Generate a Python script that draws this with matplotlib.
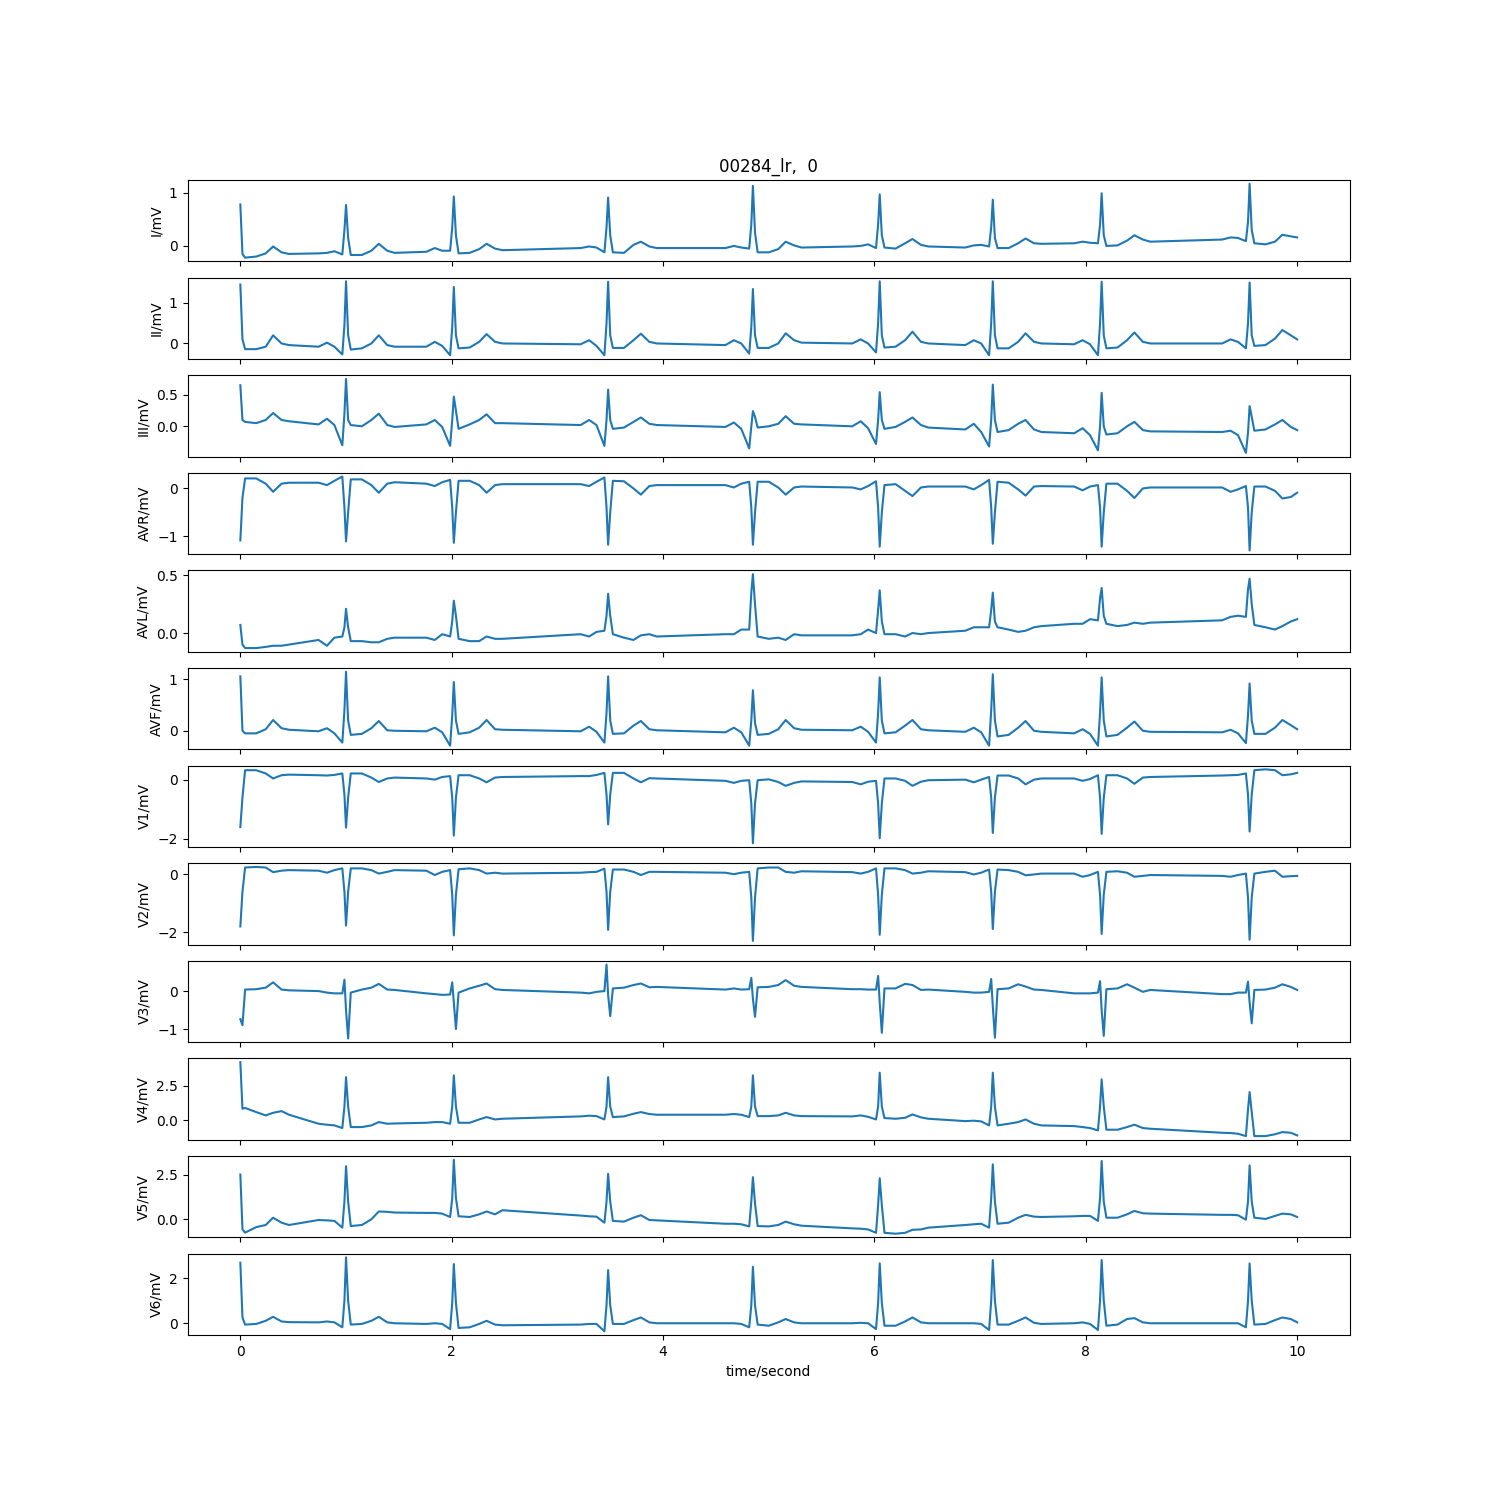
import matplotlib.pyplot as plt
import numpy as np

# ===================== Data =====================
title = "00284_lr,  0"
leads = ["I", "II", "III", "AVR", "AVL", "AVF", "V1", "V2", "V3", "V4", "V5", "V6"]

# R peak times (seconds), first beat is cut at t = 0
r_times = [1.00, 2.02, 3.48, 4.85, 6.05, 7.12, 8.15, 9.55]
# sample points around each R peak: pre, P, PR, Q, up, R, down, J, ST, T0, Tpeak, Tend, post
offsets = [-0.26, -0.18, -0.11, -0.035, -0.015, 0.0, 0.02, 0.045, 0.15, 0.24, 0.31, 0.39, 0.46]

# values in mV, first row = partial beat at t = 0
lead_I = [
    [0.78, -0.15, -0.22, -0.20, -0.14, -0.01, -0.12, -0.15],
    [-0.14, -0.13, -0.10, -0.16, 0.30, 0.77, 0.15, -0.17, -0.17, -0.09, 0.04, -0.09, -0.13],
    [-0.11, -0.04, -0.09, -0.09, 0.35, 0.93, 0.20, -0.14, -0.13, -0.06, 0.04, -0.05, -0.08],
    [-0.04, -0.01, -0.03, -0.12, 0.35, 0.91, 0.20, -0.12, -0.13, 0.02, 0.08, -0.01, -0.04],
    [-0.04, 0.00, -0.03, -0.05, 0.40, 1.13, 0.25, -0.12, -0.12, -0.06, 0.08, 0.01, -0.03],
    [-0.01, 0.00, 0.03, -0.04, 0.40, 0.97, 0.20, -0.03, -0.05, 0.05, 0.13, 0.02, -0.01],
    [-0.03, 0.01, 0.02, -0.01, 0.35, 0.87, 0.15, -0.04, -0.04, 0.05, 0.14, 0.05, 0.04],
    [0.05, 0.08, 0.06, 0.05, 0.40, 0.99, 0.20, 0.00, 0.01, 0.10, 0.20, 0.12, 0.08],
    [0.12, 0.16, 0.15, 0.09, 0.45, 1.17, 0.30, 0.05, 0.03, 0.08, 0.21, 0.18, 0.16],
]
lead_II = [
    [1.45, 0.10, -0.14, -0.14, -0.08, 0.20, 0.00, -0.04],
    [-0.08, 0.02, -0.08, -0.27, 0.45, 1.53, 0.20, -0.15, -0.12, 0.00, 0.20, -0.04, -0.08],
    [-0.08, 0.04, -0.06, -0.29, 0.40, 1.39, 0.20, -0.12, -0.10, 0.04, 0.23, 0.04, 0.00],
    [-0.02, 0.08, -0.06, -0.29, 0.50, 1.52, 0.20, -0.11, -0.11, 0.08, 0.24, 0.04, 0.00],
    [-0.04, 0.08, 0.00, -0.25, 0.40, 1.34, 0.20, -0.11, -0.11, 0.00, 0.25, 0.08, 0.02],
    [0.00, 0.10, 0.00, -0.22, 0.50, 1.53, 0.20, -0.10, -0.08, 0.08, 0.29, 0.04, 0.00],
    [-0.04, 0.08, 0.00, -0.29, 0.50, 1.53, 0.20, -0.12, -0.12, 0.04, 0.25, 0.04, 0.00],
    [-0.02, 0.08, -0.02, -0.29, 0.50, 1.52, 0.20, -0.12, -0.10, 0.08, 0.27, 0.04, 0.00],
    [0.00, 0.10, 0.04, -0.12, 0.50, 1.50, 0.20, -0.06, -0.04, 0.12, 0.33, 0.20, 0.10],
]
lead_III = [
    [0.65, 0.10, 0.07, 0.05, 0.10, 0.21, 0.10, 0.08],
    [0.03, 0.12, 0.02, -0.30, 0.20, 0.75, 0.10, 0.02, 0.00, 0.10, 0.20, 0.02, -0.01],
    [0.03, 0.10, -0.01, -0.31, 0.10, 0.47, 0.25, -0.04, 0.03, 0.10, 0.19, 0.05, 0.05],
    [0.02, 0.10, 0.02, -0.31, 0.10, 0.58, 0.10, -0.04, -0.02, 0.07, 0.14, 0.04, 0.02],
    [-0.01, 0.06, -0.04, -0.35, 0.00, 0.24, 0.15, -0.02, 0.00, 0.04, 0.16, 0.04, 0.03],
    [0.00, 0.08, -0.03, -0.28, 0.10, 0.54, 0.10, -0.04, -0.01, 0.07, 0.14, 0.02, -0.02],
    [-0.05, 0.04, -0.09, -0.32, 0.10, 0.66, 0.10, -0.09, -0.06, 0.04, 0.10, -0.05, -0.09],
    [-0.11, -0.03, -0.14, -0.38, 0.00, 0.53, 0.00, -0.13, -0.11, 0.00, 0.07, -0.06, -0.08],
    [-0.09, -0.07, -0.14, -0.42, -0.10, 0.32, 0.15, -0.07, -0.05, 0.03, 0.10, -0.01, -0.06],
]
lead_AVR = [
    [-1.09, -0.20, 0.21, 0.21, 0.10, -0.07, 0.10, 0.12],
    [0.12, 0.07, 0.16, 0.25, -0.40, -1.11, -0.50, 0.19, 0.19, 0.07, -0.09, 0.10, 0.13],
    [0.10, 0.05, 0.13, 0.18, -0.40, -1.14, -0.50, 0.16, 0.16, 0.07, -0.09, 0.07, 0.09],
    [0.09, 0.05, 0.14, 0.23, -0.40, -1.18, -0.50, 0.16, 0.15, 0.00, -0.13, 0.05, 0.07],
    [0.07, 0.02, 0.10, 0.14, -0.40, -1.18, -0.50, 0.14, 0.14, 0.02, -0.13, 0.02, 0.04],
    [0.02, -0.02, 0.05, 0.15, -0.40, -1.22, -0.50, 0.07, 0.09, -0.05, -0.16, 0.02, 0.04],
    [0.04, -0.02, 0.07, 0.18, -0.40, -1.16, -0.50, 0.14, 0.12, -0.02, -0.15, 0.04, 0.05],
    [0.04, -0.04, 0.04, 0.07, -0.40, -1.22, -0.50, 0.10, 0.10, -0.05, -0.20, 0.00, 0.02],
    [0.02, -0.07, -0.02, 0.05, -0.40, -1.30, -0.50, 0.04, 0.04, -0.05, -0.21, -0.18, -0.09],
]
lead_AVL = [
    [0.07, -0.10, -0.13, -0.13, -0.12, -0.11, -0.11, -0.10],
    [-0.06, -0.11, -0.04, -0.03, 0.05, 0.21, 0.05, -0.07, -0.07, -0.08, -0.08, -0.05, -0.04],
    [-0.04, -0.06, -0.01, -0.03, 0.10, 0.28, 0.15, -0.05, -0.07, -0.07, -0.03, -0.05, -0.05],
    [-0.01, -0.03, 0.01, 0.02, 0.15, 0.34, 0.15, -0.01, -0.04, -0.06, -0.02, -0.01, -0.03],
    [-0.01, -0.01, 0.03, 0.03, 0.35, 0.51, 0.25, -0.03, -0.05, -0.04, -0.06, -0.01, -0.02],
    [-0.02, -0.01, 0.03, 0.00, 0.20, 0.37, 0.10, -0.01, -0.01, -0.03, 0.00, -0.01, 0.00],
    [0.02, 0.05, 0.05, 0.05, 0.20, 0.35, 0.10, 0.05, 0.03, 0.01, 0.02, 0.05, 0.06],
    [0.08, 0.08, 0.12, 0.11, 0.30, 0.39, 0.15, 0.08, 0.06, 0.07, 0.09, 0.08, 0.09],
    [0.11, 0.14, 0.15, 0.14, 0.38, 0.47, 0.25, 0.07, 0.05, 0.03, 0.06, 0.10, 0.12],
]
lead_AVF = [
    [1.06, 0.00, -0.05, -0.05, 0.03, 0.21, 0.05, 0.02],
    [-0.01, 0.05, -0.05, -0.23, 0.40, 1.15, 0.20, -0.08, -0.06, 0.05, 0.19, 0.01, 0.00],
    [-0.01, 0.06, -0.03, -0.29, 0.30, 0.95, 0.20, -0.06, -0.03, 0.06, 0.21, 0.03, 0.02],
    [-0.01, 0.08, -0.02, -0.23, 0.35, 1.06, 0.20, -0.06, -0.05, 0.10, 0.19, 0.03, 0.01],
    [-0.03, 0.06, -0.03, -0.29, 0.20, 0.79, 0.15, -0.08, -0.06, 0.03, 0.21, 0.05, 0.02],
    [0.01, 0.08, -0.02, -0.23, 0.35, 1.04, 0.20, -0.05, -0.03, 0.10, 0.21, 0.03, 0.01],
    [-0.02, 0.06, -0.03, -0.29, 0.40, 1.10, 0.20, -0.11, -0.08, 0.06, 0.19, 0.00, -0.02],
    [-0.05, 0.03, -0.06, -0.29, 0.35, 1.04, 0.20, -0.11, -0.08, 0.06, 0.18, 0.00, -0.02],
    [-0.03, 0.02, -0.05, -0.24, 0.30, 0.92, 0.20, -0.06, -0.06, 0.06, 0.21, 0.11, 0.03],
]
lead_V1 = [
    [-1.60, -0.60, 0.33, 0.33, 0.22, 0.05, 0.16, 0.18],
    [0.16, 0.15, 0.17, 0.22, -0.50, -1.62, -0.60, 0.22, 0.22, 0.08, -0.07, 0.05, 0.08],
    [0.05, 0.01, 0.10, 0.13, -0.60, -1.89, -0.60, 0.16, 0.16, 0.05, -0.08, 0.08, 0.10],
    [0.13, 0.13, 0.17, 0.24, -0.50, -1.51, -0.50, 0.24, 0.24, 0.05, -0.08, 0.06, 0.05],
    [-0.03, -0.10, -0.03, -0.01, -0.80, -2.15, -0.80, -0.01, 0.02, -0.07, -0.20, -0.10, -0.05],
    [-0.07, -0.15, -0.06, -0.03, -0.80, -1.98, -0.80, 0.05, 0.05, -0.03, -0.20, -0.06, -0.01],
    [0.01, -0.08, 0.01, 0.10, -0.60, -1.80, -0.60, 0.15, 0.15, 0.05, -0.15, 0.01, 0.05],
    [0.05, -0.03, 0.03, 0.16, -0.60, -1.83, -0.60, 0.16, 0.16, 0.05, -0.13, 0.08, 0.10],
    [0.15, 0.16, 0.17, 0.22, -0.50, -1.75, -0.50, 0.33, 0.36, 0.33, 0.16, 0.19, 0.24],
]
lead_V2 = [
    [-1.80, -0.60, 0.24, 0.26, 0.24, 0.08, 0.13, 0.15],
    [0.13, 0.06, 0.15, 0.21, -0.60, -1.77, -0.60, 0.21, 0.21, 0.15, 0.03, 0.09, 0.15],
    [0.13, -0.02, 0.09, 0.15, -0.70, -2.11, -0.70, 0.18, 0.21, 0.15, 0.03, 0.06, 0.03],
    [0.06, 0.08, 0.09, 0.20, -0.60, -1.92, -0.60, 0.17, 0.17, 0.09, -0.02, 0.09, 0.09],
    [0.06, 0.01, 0.06, 0.09, -0.80, -2.30, -0.80, 0.21, 0.24, 0.24, 0.09, 0.06, 0.11],
    [0.08, 0.03, 0.09, 0.21, -0.70, -2.09, -0.70, 0.21, 0.21, 0.15, 0.03, 0.06, 0.11],
    [0.08, 0.00, 0.06, 0.17, -0.60, -1.89, -0.60, 0.17, 0.15, 0.09, -0.03, 0.00, 0.03],
    [0.03, -0.08, -0.02, 0.09, -0.70, -2.06, -0.70, 0.09, 0.11, 0.06, -0.08, -0.05, -0.02],
    [-0.05, -0.08, -0.02, 0.03, -0.80, -2.26, -0.80, 0.03, 0.09, 0.13, -0.08, -0.06, -0.05],
]
lead_V3 = [
    [-0.74, -0.90, 0.04, 0.05, 0.09, 0.23, 0.04, 0.02],
    [0.00, -0.04, -0.06, -0.06, 0.30, -0.50, -1.25, -0.04, 0.04, 0.09, 0.19, 0.04, 0.03],
    [-0.06, -0.08, -0.10, -0.09, 0.23, -0.30, -1.00, -0.04, 0.07, 0.14, 0.20, 0.05, 0.03],
    [-0.04, -0.06, -0.02, 0.00, 0.70, -0.10, -0.66, 0.07, 0.09, 0.16, 0.20, 0.10, 0.11],
    [0.04, 0.07, 0.04, 0.05, 0.35, -0.20, -0.68, 0.10, 0.11, 0.16, 0.29, 0.14, 0.11],
    [0.05, 0.05, 0.04, 0.04, 0.40, -0.30, -1.10, 0.07, 0.07, 0.19, 0.16, 0.03, 0.04],
    [-0.02, -0.04, -0.04, -0.02, 0.32, -0.40, -1.23, 0.05, 0.07, 0.18, 0.12, 0.04, 0.03],
    [-0.06, -0.06, -0.06, -0.04, 0.26, -0.50, -1.18, 0.05, 0.07, 0.18, 0.09, -0.02, 0.03],
    [-0.08, -0.08, -0.04, -0.04, 0.25, -0.30, -0.85, 0.03, 0.04, 0.09, 0.18, 0.11, 0.03],
]
lead_V4 = [
    [4.20, 0.84, 0.90, 0.60, 0.36, 0.55, 0.67, 0.41],
    [-0.24, -0.31, -0.36, -0.55, 1.00, 3.12, 1.00, -0.48, -0.48, -0.36, -0.12, -0.24, -0.22],
    [-0.17, -0.12, -0.12, -0.24, 1.00, 3.25, 1.00, -0.17, -0.17, 0.07, 0.24, 0.07, 0.12],
    [0.29, 0.34, 0.31, 0.07, 1.00, 3.12, 1.00, 0.24, 0.29, 0.48, 0.60, 0.46, 0.41],
    [0.41, 0.46, 0.41, 0.24, 1.00, 3.25, 1.00, 0.31, 0.31, 0.36, 0.55, 0.36, 0.31],
    [0.29, 0.36, 0.26, 0.07, 1.00, 3.44, 1.00, 0.17, 0.12, 0.19, 0.43, 0.22, 0.12],
    [-0.05, -0.02, -0.07, -0.36, 1.00, 3.44, 1.00, -0.36, -0.24, -0.12, 0.07, -0.24, -0.36],
    [-0.41, -0.48, -0.55, -0.72, 1.00, 2.96, 1.00, -0.67, -0.67, -0.48, -0.31, -0.55, -0.60],
    [-0.89, -0.91, -0.96, -1.13, 0.80, 2.04, 0.60, -1.13, -1.13, -1.00, -0.84, -0.89, -1.08],
]
lead_V5 = [
    [2.52, -0.57, -0.75, -0.44, -0.32, 0.09, -0.19, -0.32],
    [-0.04, -0.06, -0.09, -0.47, 1.00, 2.99, 1.00, -0.38, -0.32, 0.00, 0.44, 0.42, 0.38],
    [0.36, 0.36, 0.32, 0.13, 1.20, 3.35, 1.20, 0.17, 0.13, 0.28, 0.44, 0.28, 0.51],
    [0.21, 0.17, 0.15, -0.19, 1.00, 2.56, 1.00, -0.09, -0.13, 0.09, 0.23, -0.04, -0.06],
    [-0.25, -0.25, -0.28, -0.40, 1.00, 2.37, 0.90, -0.38, -0.40, -0.32, -0.13, -0.28, -0.36],
    [-0.51, -0.53, -0.57, -0.76, 0.80, 2.31, 0.80, -0.76, -0.81, -0.76, -0.59, -0.57, -0.47],
    [-0.32, -0.28, -0.25, -0.47, 1.20, 3.09, 1.00, -0.25, -0.19, 0.09, 0.25, 0.15, 0.13],
    [0.17, 0.19, 0.19, -0.09, 1.20, 3.28, 1.00, 0.09, 0.09, 0.28, 0.47, 0.34, 0.32],
    [0.25, 0.25, 0.23, -0.02, 1.00, 3.03, 1.00, 0.09, 0.02, 0.19, 0.32, 0.28, 0.13],
]
lead_V6 = [
    [2.70, 0.25, -0.07, -0.04, 0.10, 0.28, 0.07, 0.04],
    [0.03, 0.07, 0.03, -0.19, 1.00, 2.94, 1.00, -0.07, -0.04, 0.10, 0.28, 0.03, -0.01],
    [-0.04, -0.01, -0.04, -0.27, 0.90, 2.64, 0.90, -0.22, -0.19, -0.04, 0.10, -0.07, -0.10],
    [-0.07, -0.04, -0.04, -0.37, 0.80, 2.37, 0.80, -0.04, -0.04, 0.13, 0.25, 0.03, -0.01],
    [-0.01, -0.01, -0.04, -0.19, 0.80, 2.52, 0.80, -0.07, -0.12, 0.03, 0.18, 0.03, -0.01],
    [-0.01, 0.01, -0.01, -0.27, 0.90, 2.67, 0.90, -0.12, -0.12, 0.07, 0.25, 0.03, -0.01],
    [-0.01, -0.01, -0.04, -0.31, 1.00, 2.82, 1.00, -0.07, -0.07, 0.10, 0.25, 0.01, -0.04],
    [-0.01, 0.03, -0.04, -0.31, 1.00, 2.82, 1.00, -0.12, -0.07, 0.18, 0.22, 0.03, -0.01],
    [-0.01, -0.01, -0.01, -0.19, 1.00, 2.67, 1.00, -0.07, -0.04, 0.13, 0.25, 0.18, 0.03],
]

signals = [lead_I, lead_II, lead_III, lead_AVR, lead_AVL, lead_AVF,
           lead_V1, lead_V2, lead_V3, lead_V4, lead_V5, lead_V6]

# ===================== Time axis =====================
t = list(offsets[5:])
for r in r_times:
    for o in offsets:
        t.append(r + o)
t = np.minimum(np.array(t), 10.0)

# ===================== Plot =====================
fig, axes = plt.subplots(12, 1, sharex=True, figsize=(15, 15))
for i in range(len(leads)):
    values = [v for row in signals[i] for v in row]
    axes[i].plot(t, values)
    axes[i].set_ylabel(leads[i] + "/mV")

axes[0].set_title(title)
axes[-1].set_xlabel("time/second")

plt.savefig("out.png", dpi=100)
